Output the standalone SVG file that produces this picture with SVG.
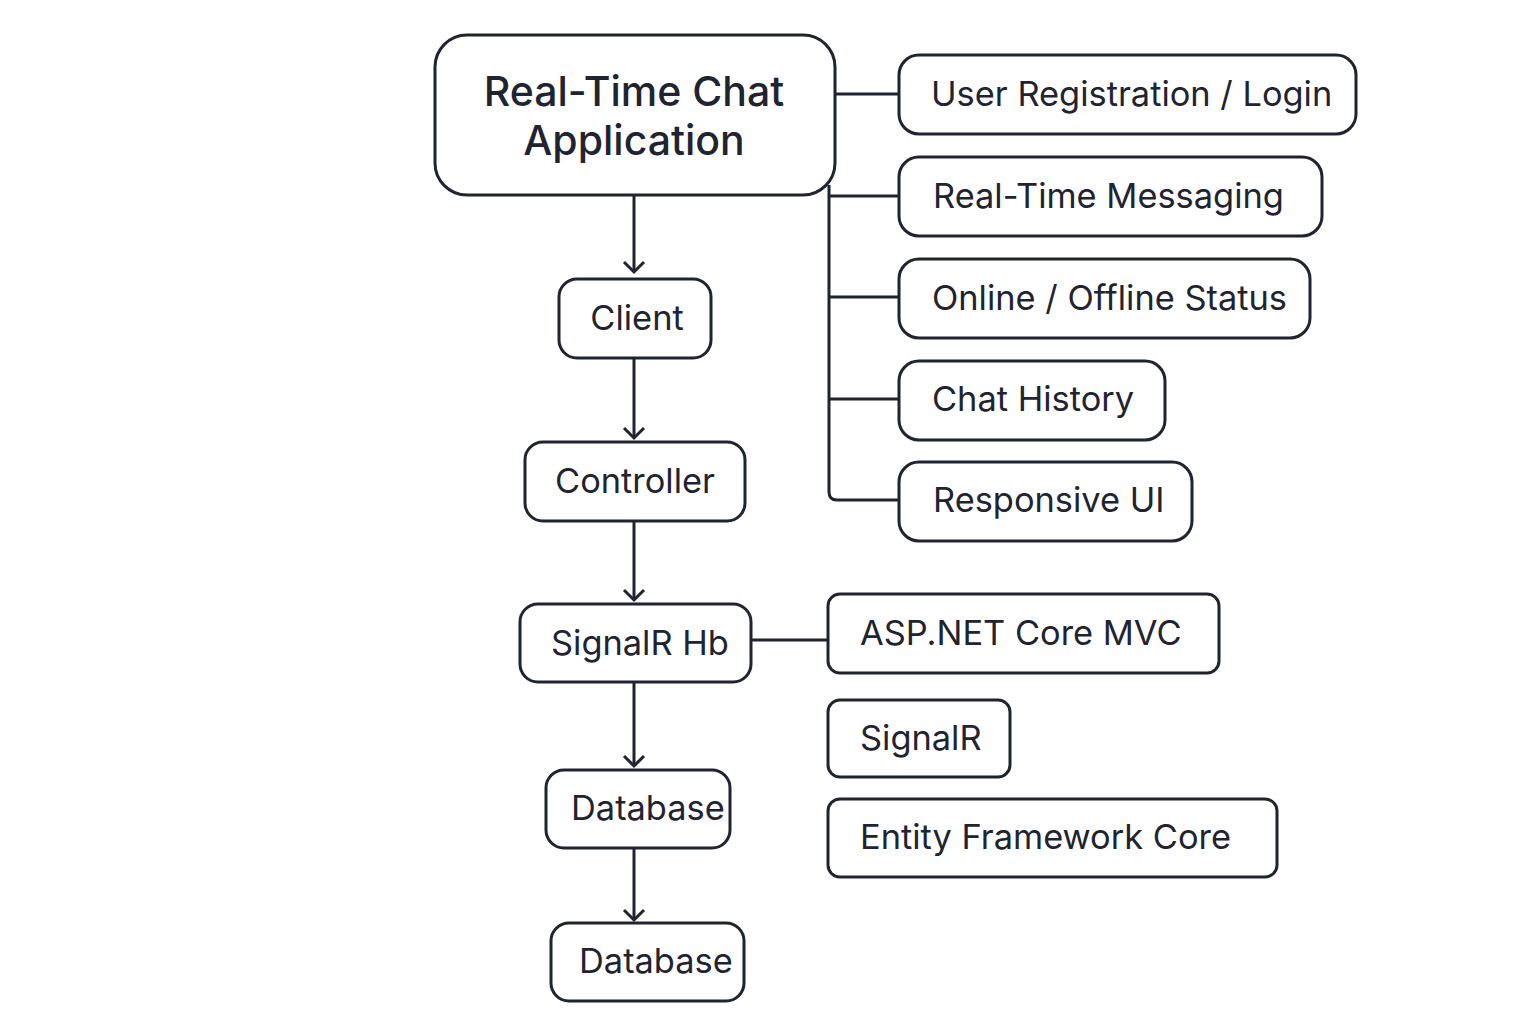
<svg xmlns="http://www.w3.org/2000/svg" width="1536" height="1024" viewBox="0 0 1536 1024">
<defs>
<style>
.box{fill:#fff;stroke:#1f2430;stroke-width:3}
.t{font-family:Inter,"Noto Sans","Liberation Sans",sans-serif;font-size:34.4px;fill:#1f2430}
.title{font-family:Inter,"Noto Sans","Liberation Sans",sans-serif;font-size:41px;font-weight:500;fill:#1f2430}
.c{fill:none;stroke:#1f2430;stroke-width:3}
</style>
</defs>
<rect width="1536" height="1024" fill="#fff"/>
<g id="connectors">
<path class="c" d="M835,94 H899"/>
<path class="c" d="M829,185 V492 Q829,500 837,500 H899"/>
<path class="c" d="M829,196 H899"/>
<path class="c" d="M829,297 H899"/>
<path class="c" d="M829,399 H899"/>
<path class="c" d="M751,640 H828"/>
<path d="M634,196 V272" class="c"/><path class="c" d="M624,262 L634,272 L644,262"/>
<path d="M634,358 V438" class="c"/><path class="c" d="M624,428 L634,438 L644,428"/>
<path d="M634,521 V600" class="c"/><path class="c" d="M624,590 L634,600 L644,590"/>
<path d="M634,682 V766" class="c"/><path class="c" d="M624,756 L634,766 L644,756"/>
<path d="M634,848 V920" class="c"/><path class="c" d="M624,910 L634,920 L644,910"/>
</g>
<g id="main"><rect class="box" x="435" y="35" width="400" height="160" rx="32"/>
<text class="title" x="634" y="106" text-anchor="middle">Real-Time Chat</text>
<text class="title" x="634" y="155" text-anchor="middle">Application</text></g>
<g id="f1"><rect class="box" x="899" y="55" width="457" height="79" rx="20"/><text class="t" x="931" y="106">User Registration / Login</text></g>
<g id="f2"><rect class="box" x="899" y="157" width="423" height="79" rx="20"/><text class="t" x="933" y="208">Real-Time Messaging</text></g>
<g id="f3"><rect class="box" x="899" y="259" width="411" height="79" rx="20"/><text class="t" x="932" y="310">Online / Offline Status</text></g>
<g id="f4"><rect class="box" x="899" y="361" width="266" height="79" rx="20"/><text class="t" x="932" y="411">Chat History</text></g>
<g id="f5"><rect class="box" x="899" y="462" width="293" height="79" rx="20"/><text class="t" x="933" y="512">Responsive UI</text></g>
<g id="client"><rect class="box" x="559" y="279" width="152" height="79" rx="18"/><text class="t" x="637" y="330" text-anchor="middle">Client</text></g>
<g id="controller"><rect class="box" x="525" y="442" width="220" height="79" rx="18"/><text class="t" x="635" y="493" text-anchor="middle">Controller</text></g>
<g id="hub"><rect class="box" x="520" y="604" width="231" height="78" rx="18"/><text class="t" x="551" y="655">SignalR Hb</text></g>
<g id="aspnet"><rect class="box" x="828" y="594" width="391" height="79" rx="12"/><text class="t" x="860" y="645">ASP.NET Core MVC</text></g>
<g id="signalr"><rect class="box" x="828" y="700" width="182" height="77" rx="12"/><text class="t" x="860" y="750">SignalR</text></g>
<g id="ef"><rect class="box" x="828" y="799" width="449" height="78" rx="12"/><text class="t" x="860" y="849">Entity Framework Core</text></g>
<g id="db1"><rect class="box" x="546" y="770" width="184" height="78" rx="18"/><text class="t" x="571" y="820">Database</text></g>
<g id="db2"><rect class="box" x="551" y="923" width="193" height="78" rx="18"/><text class="t" x="579" y="973">Database</text></g>
</svg>
